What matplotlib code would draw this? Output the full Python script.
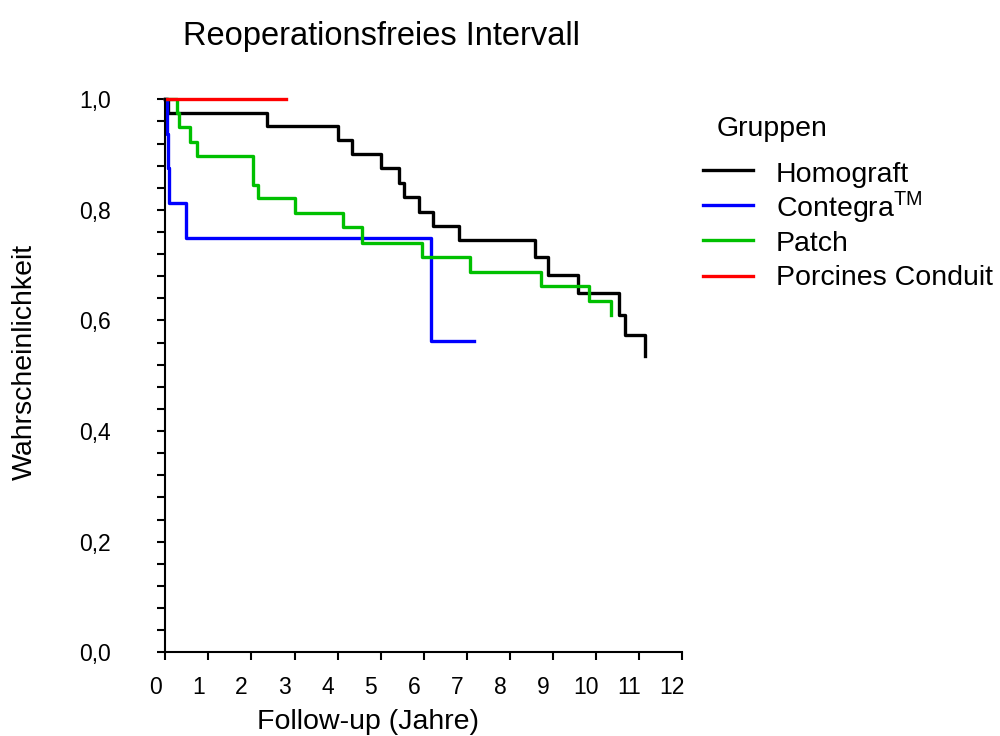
import matplotlib
matplotlib.use('Agg')
import matplotlib.pyplot as plt
from matplotlib.lines import Line2D
from matplotlib.ticker import MultipleLocator, FuncFormatter
from matplotlib.transforms import ScaledTranslation

plt.rcParams['font.family'] = ['Liberation Sans', 'DejaVu Sans']
plt.rcParams['mathtext.fontset'] = 'custom'
plt.rcParams['mathtext.rm'] = 'Liberation Sans'

# Kaplan-Meier steps (time in years, survival)
homograft_t = [0, 0.06, 2.35, 4.02, 4.33, 5.01, 5.43, 5.54, 5.89, 6.21, 6.82,
               8.57, 8.89, 9.59, 10.54, 10.67, 11.14]
homograft_s = [1.0, 0.976, 0.952, 0.926, 0.901, 0.875, 0.849, 0.823, 0.797,
               0.771, 0.746, 0.715, 0.682, 0.650, 0.610, 0.574, 0.535]

contegra_t = [0, 0.03, 0.056, 0.093, 0.48, 6.16, 7.17]
contegra_s = [1.0, 0.9375, 0.875, 0.8125, 0.75, 0.5625, 0.5625]

patch_t = [0, 0.26, 0.32, 0.57, 0.73, 2.03, 2.16, 3.01, 4.13, 4.57, 5.95,
           7.07, 8.71, 9.84, 10.35]
patch_s = [1.0, 0.975, 0.949, 0.923, 0.898, 0.845, 0.821, 0.794, 0.769,
           0.741, 0.715, 0.688, 0.662, 0.635, 0.610]

porcine_t = [0, 2.79]
porcine_s = [1.0, 1.0]

groups = ['Homograft', r'Contegra$^{\mathrm{TM}}$', 'Patch', 'Porcines Conduit']
colors = ['#000000', '#0000ff', '#00c000', '#ff0000']

W, H = 1000, 736
fig = plt.figure(figsize=(W / 100, H / 100), dpi=100)
ax = fig.add_axes([0.1653, 0.1137, 0.517, 0.7514])

series = [(homograft_t, homograft_s), (contegra_t, contegra_s),
          (patch_t, patch_s), (porcine_t, porcine_s)]
for (t, s), c in zip(series, colors):
    ax.step(t, s, where='post', color=c, lw=2.4, clip_on=False)

ax.set_xlim(0, 12)
ax.set_ylim(0, 1.0)
for side in ['top', 'right']:
    ax.spines[side].set_visible(False)
for side in ['left', 'bottom']:
    ax.spines[side].set_linewidth(1.5)

ax.xaxis.set_major_locator(MultipleLocator(1))
ax.yaxis.set_major_locator(MultipleLocator(0.2))
ax.yaxis.set_minor_locator(MultipleLocator(0.04))
ax.yaxis.set_major_formatter(FuncFormatter(lambda v, p: f'{v:.1f}'.replace('.', ',')))
ax.tick_params(axis='both', which='both', direction='out', length=6,
               width=1.5, color='black')
ax.tick_params(axis='x', labelsize=16.5, pad=11)
ax.tick_params(axis='y', labelsize=16.5, pad=33)

# tick labels in the original sit a bit left of their ticks
shift = ScaledTranslation(-0.10, 0, fig.dpi_scale_trans)
for lab in ax.get_xticklabels():
    lab.set_transform(lab.get_transform() + shift)

fig.text(0.3817, (H - 45) / H, 'Reoperationsfreies Intervall',
         fontsize=23.5, ha='center', va='baseline')
fig.text(0.3683, (H - 729.3) / H, 'Follow-up (Jahre)',
         fontsize=20.5, ha='center', va='baseline')
fig.text(0.025, (H - 361.5) / H, 'Wahrscheinlichkeit', fontsize=20.5,
         rotation=90, ha='center', va='center')

# legend block, laid out by hand like the original
fig.text(716.7 / W, (H - 136) / H, 'Gruppen', fontsize=20.5, ha='left',
         va='baseline')
for i, (name, c) in enumerate(zip(groups, colors)):
    y_line = 170 + 35.2 * i
    y_base = 181.7 + 34.5 * i
    fig.add_artist(Line2D([703.3 / W, 753.3 / W], [(H - y_line) / H] * 2,
                          transform=fig.transFigure, color=c, lw=2.4))
    fig.text(776 / W, (H - y_base) / H, name, fontsize=20.5, ha='left',
             va='baseline')

fig.savefig('out.png', dpi=100)
